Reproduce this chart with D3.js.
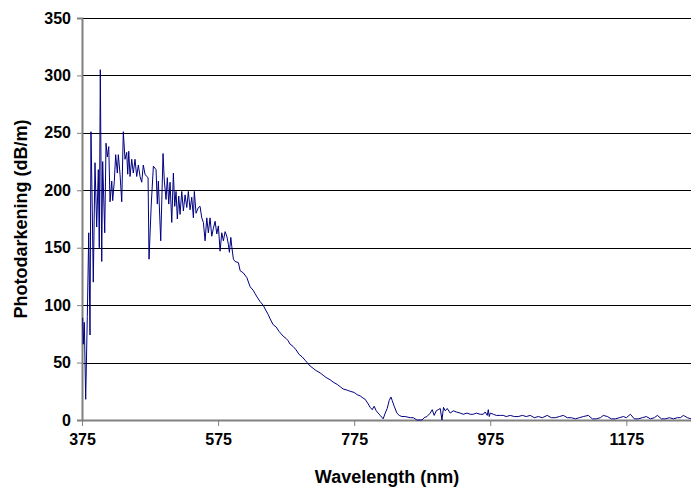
<!DOCTYPE html>
<html>
<head>
<meta charset="utf-8">
<script src="https://cdn.jsdelivr.net/npm/d3@7"></script>
<style>
  html, body { margin: 0; padding: 0; background: #fff; }
  svg { display: block; }
  text { font-family: "Liberation Sans", Arial, sans-serif; font-weight: bold; fill: #000; }
</style>
</head>
<body>
<svg id="chart" width="693" height="491"></svg>
<script>
// ---- Data ----
const wavelength = [
  376.0, 376.9, 378.4, 380.4, 382.8, 384.9, 386.8, 388.2, 390.1, 391.6,
  394.1, 396.6, 399.0, 400.4, 401.9, 404.0, 405.4, 408.4, 410.3, 412.2,
  414.3, 416.2, 418.7, 420.1, 422.5, 424.5, 426.9, 428.4, 430.9, 433.4,
  435.7, 438.2, 440.7, 442.2, 443.7, 445.6, 448.1, 450.4, 452.9, 455.4,
  457.8, 460.3, 462.8, 465.1, 467.6, 470.1, 472.1, 473.5, 476.8, 479.9,
  483.8, 485.7, 487.2, 490.7, 494.1, 496.0, 498.5, 500.4, 502.5, 504.4,
  506.9, 509.3, 511.3, 513.2, 515.1, 517.2, 519.1, 521.6, 524.0, 526.5,
  529.0, 531.3, 533.8, 536.3, 538.7, 540.1, 542.6, 546.0, 548.5, 551.0,
  553.4, 555.9, 558.4, 560.7, 563.2, 565.7, 568.1, 570.6, 573.1, 575.4,
  577.9, 580.4, 582.8, 585.3, 587.8, 590.1, 591.6, 593.7, 595.1, 597.5,
  600.0, 604.9, 607.4, 612.2, 617.2, 622.1, 626.5, 629.4, 632.4, 636.8,
  641.2, 645.6, 648.5, 651.5, 655.9, 660.3, 664.7, 670.6, 675.0, 677.9,
  680.9, 685.3, 689.7, 694.1, 698.5, 702.9, 705.9, 710.3, 714.7, 719.1,
  725.0, 729.4, 733.8, 739.7, 744.1, 750.0, 754.4, 758.8, 764.7, 769.1,
  775.0, 779.4, 783.8, 788.2, 791.2, 795.6, 798.5, 801.5, 804.4, 807.4,
  810.3, 813.2, 817.6, 820.6, 823.5, 826.5, 829.0, 830.9, 833.8, 837.8,
  841.2, 845.1, 850.0, 857.4, 861.8, 867.2, 874.6, 877.9, 881.9, 886.8,
  889.7, 892.6, 895.6, 898.5, 901.5, 904.0, 906.3, 908.8, 911.8, 916.2,
  920.6, 925.0, 930.9, 935.3, 940.7, 945.6, 950.0, 954.4, 960.3, 964.7,
  967.6, 970.6, 972.1, 973.5, 975.0, 979.4, 983.8, 989.7, 994.1, 998.5,
  1004.4, 1010.3, 1016.2, 1022.1, 1027.9, 1033.8, 1039.7, 1045.6, 1051.5, 1058.8,
  1064.7, 1070.6, 1076.5, 1082.4, 1088.2, 1094.1, 1100.0, 1105.9, 1111.8, 1119.1,
  1125.0, 1130.9, 1136.8, 1141.2, 1147.1, 1152.9, 1158.8, 1164.7, 1170.6, 1175.0,
  1180.9, 1186.8, 1192.6, 1198.5, 1204.4, 1210.3, 1216.2, 1220.6, 1226.5, 1232.4,
  1238.2, 1244.1, 1250.0, 1254.4, 1258.8, 1264.7, 1270.0
];
const photodarkening = [
  89, 66, 85, 18, 90, 163, 74, 251, 183, 120,
  224, 168, 218, 150, 305, 138, 225, 163, 241, 229,
  238, 190, 208, 191, 208, 231, 215, 231, 214, 190,
  251, 227, 233, 214, 234, 212, 227, 215, 227, 212,
  222, 212, 207, 222, 214, 212, 211, 140, 188, 221,
  218, 188, 208, 156, 232, 208, 192, 211, 188, 207,
  172, 215, 186, 199, 175, 195, 179, 199, 182, 196,
  185, 199, 183, 194, 176, 199, 180, 185, 186, 176,
  172, 156, 176, 163, 176, 160, 167, 173, 162, 169,
  147, 163, 156, 164, 160, 153, 146, 159, 151, 140,
  138, 137, 130, 128, 124, 116, 113, 110, 107, 103,
  100, 95, 92, 88, 83, 81, 77, 73, 71, 69,
  66, 64, 61, 57, 55, 52, 50, 47, 45, 43,
  41, 39, 37, 35, 33, 31, 29, 27, 26, 25,
  24, 22, 21, 19, 18, 14, 11, 9, 12, 8,
  6, 4, 1, 6, 10, 17, 20, 17, 12, 6,
  4, 3, 3, 2, 2, 0, 0, 2, 3, 6,
  9, 4, 8, 9, 10, 0, 11, 8, 10, 6,
  8, 7, 6, 5, 6, 5, 5, 6, 5, 5,
  7, 4, 9, 3, 6, 5, 4, 4, 4, 3,
  4, 3, 3, 4, 3, 4, 2, 3, 2, 4,
  2, 2, 3, 4, 2, 2, 1, 2, 3, 4,
  1, 1, 2, 4, 3, 1, 1, 2, 3, 2,
  5, 1, 1, 2, 3, 1, 2, 4, 1, 1,
  2, 1, 2, 2, 4, 2, 1
];
const xTicks = [375, 575, 775, 975, 1175];
const yTicks = [0, 50, 100, 150, 200, 250, 300, 350];
const xTitle = "Wavelength (nm)";
const yTitle = "Photodarkening (dB/m)";

// ---- Layout ----
const svg = d3.select("#chart");
const plot = { left: 82, right: 691, top: 18, bottom: 420 };

const x = d3.scaleLinear().domain([375, 1270]).range([plot.left, plot.right]);
const y = d3.scaleLinear().domain([0, 350]).range([plot.bottom, plot.top]);

// gridlines
svg.append("g")
  .selectAll("line")
  .data(yTicks.filter(d => d > 0))
  .join("line")
  .attr("x1", plot.left).attr("x2", plot.right)
  .attr("y1", d => Math.round(y(d)) + 0.5).attr("y2", d => Math.round(y(d)) + 0.5)
  .attr("stroke", "#000").attr("stroke-width", 1);

// y axis
const yAxis = svg.append("g")
  .attr("transform", `translate(${plot.left},0)`)
  .call(d3.axisLeft(y).tickValues(yTicks).tickSize(5).tickPadding(6).tickFormat(d3.format("d")));
yAxis.select(".domain").attr("stroke", "#808080").attr("stroke-width", 2);
yAxis.selectAll(".tick line").attr("stroke", "#808080");
yAxis.selectAll("text").style("font-size", "16px");

// x axis
const xAxis = svg.append("g")
  .attr("transform", `translate(0,${plot.bottom})`)
  .call(d3.axisBottom(x).tickValues(xTicks).tickSize(6).tickPadding(8).tickFormat(d3.format("d")));
xAxis.select(".domain").attr("stroke", "#808080").attr("stroke-width", 2)
  .attr("d", `M${plot.left},0.5H${plot.right}`);
xAxis.selectAll(".tick line").attr("stroke", "#808080");
xAxis.selectAll("text").style("font-size", "16px");

// data line
const pts = wavelength.map((w, i) => [w, photodarkening[i]]);
svg.append("path")
  .datum(pts)
  .attr("fill", "none")
  .attr("stroke", "#000080")
  .attr("stroke-width", 1)
  .attr("stroke-linejoin", "round")
  .attr("d", d3.line().x(d => x(d[0])).y(d => y(d[1])));

// titles
svg.append("text")
  .attr("x", 387).attr("y", 483)
  .attr("text-anchor", "middle").style("font-size", "18px")
  .text(xTitle);
svg.append("text")
  .attr("transform", `translate(27,219) rotate(-90)`)
  .attr("text-anchor", "middle").style("font-size", "18px")
  .text(yTitle);
</script>
</body>
</html>
